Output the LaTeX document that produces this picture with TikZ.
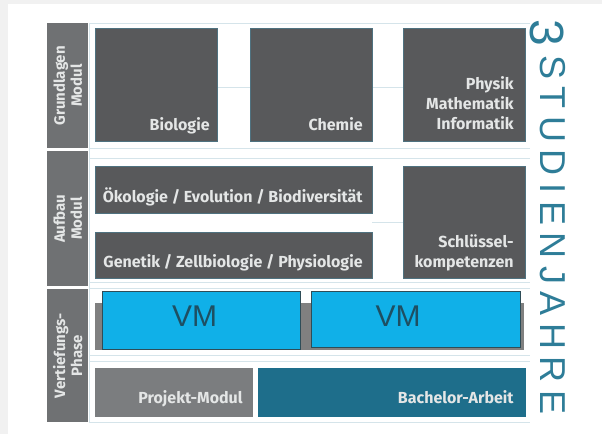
\documentclass[tikz,border=0pt]{standalone}
\usepackage{fontspec}
\setmainfont{Fira Sans}
\newfontfamily\vmfont{Liberation Sans}
\newfontfamily\yearfont[LetterSpace=21]{Liberation Sans}
\usetikzlibrary{positioning}

\definecolor{pagegrey}{HTML}{F1F1F1}
\definecolor{stripgrey}{HTML}{6F7173}
\definecolor{boxgrey}{HTML}{58595B}
\definecolor{boxedge}{HTML}{4F7280}
\definecolor{labelwhite}{HTML}{E4E6E6}
\definecolor{rulecol}{HTML}{D5E4EA}
\definecolor{vmcyan}{HTML}{10B0E8}
\definecolor{vmedge}{HTML}{2E4D58}
\definecolor{vmgrey}{HTML}{808080}
\definecolor{vmtextcol}{HTML}{1E4F62}
\definecolor{projgrey}{HTML}{7B7D7F}
\definecolor{bachteal}{HTML}{1E6E8B}
\definecolor{yearcol}{HTML}{2E7D98}

\tikzstyle{rule}=[draw=rulecol,line width=1pt]
\tikzset{
  stripbox/.style={
    fill=stripgrey,
    anchor=north west,
    inner sep=0,
    minimum width=41pt
  }
}
\tikzset{
  striptext/.style={
    rotate=90,
    align=center,
    text=labelwhite,
    inner sep=0,
    font=\bfseries\fontsize{15}{17}\selectfont
  }
}
\tikzset{
  modbox/.style={
    draw=boxedge,
    fill=boxgrey,
    line width=0.8pt,
    anchor=north west,
    inner sep=0
  }
}
\tikzset{
  modtext/.style={
    anchor=base east,
    align=right,
    text=labelwhite,
    inner sep=0,
    font=\bfseries\fontsize{16}{20}\selectfont
  }
}
\tikzset{
  vmbox/.style={
    draw=vmedge,
    fill=vmcyan,
    line width=1pt,
    anchor=north west,
    inner sep=0
  }
}
\tikzset{vmtext/.style={text=vmtextcol,inner sep=0,font=\vmfont\fontsize{30}{30}\selectfont}}

\begin{document}
\begin{tikzpicture}[x=1pt,y=-1pt]

% page
\fill[pagegrey] (0,0) rectangle (602,434);
\fill[white] (8,4) rectangle (602,434);

% rules
\draw[rule] (89,23) -- (530,23);
\draw[rule] (217,87) -- (403,87);
\draw[rule] (89,148) -- (530,148);
\draw[rule] (89,158) -- (530,158);
\draw[rule] (372,222) -- (403,222);
\draw[rule] (89,282) -- (530,282);
\draw[rule] (89,288) -- (530,288);
\draw[rule] (89,355) -- (530,355);
\draw[rule] (89,361) -- (530,361);
\draw[rule] (89,422) -- (530,422);
\draw[rule] (89,23) -- (89,422);

% phases
\node[stripbox,minimum height=125pt] (sgrund) at (47,23) {};
\node[stripbox,minimum height=135pt] (saufbau) at (47,151) {};
\node[stripbox,minimum height=133pt] (svert) at (47,289) {};
\node[striptext] at (sgrund.center) {Grundlagen\\Modul};
\node[striptext] at (saufbau.center) {Aufbau\\Modul};
\node[striptext] at (svert.center) {Vertiefungs-\\Phase};

% Grundlagen
\node[modbox,minimum width=122pt,minimum height=113pt] (bio) at (95,28) {};
\node[modbox,minimum width=122pt,minimum height=113pt] (chem) at (250,28) {};
\node[modbox,minimum width=122pt,minimum height=113pt] (phys) at (403,28) {};
\node[modtext] at ([xshift=-8pt,yshift=11pt]bio.south east) {Biologie};
\node[modtext] at ([xshift=-10pt,yshift=11pt]chem.south east) {Chemie};
\node[modtext] at ([xshift=-12pt,yshift=12pt]phys.south east) {Physik\\Mathematik\\Informatik};

% Aufbau
\node[modbox,minimum width=277pt,minimum height=47pt] (oeko) at (95,166) {};
\node[modbox,minimum width=277pt,minimum height=46pt] (gene) at (95,232) {};
\node[modbox,minimum width=122pt,minimum height=112pt] (schl) at (403,166) {};
\node[modtext] at ([xshift=-10pt,yshift=11pt]oeko.south east) {Ökologie / Evolution / Biodiversität};
\node[modtext] at ([xshift=-10pt,yshift=11pt]gene.south east) {Genetik / Zellbiologie / Physiologie};
\node[modtext] at ([xshift=-12pt,yshift=11pt]schl.south east) {Schlüssel-\\kompetenzen};

% Vertiefung
\node[fill=vmgrey,anchor=north west,inner sep=0,minimum width=429pt,minimum height=47pt] (vmbar) at (95,303) {};
\node[vmbox,minimum width=198pt,minimum height=58pt] (vma) at (102,291) {};
\node[vmbox,minimum width=209pt,minimum height=56pt] (vmb) at (311,291) {};
\node[vmtext] at ([xshift=-7pt,yshift=-25pt]vma.north) {VM};
\node[vmtext] at ([xshift=-18pt,yshift=-25pt]vmb.north) {VM};

\node[modbox,fill=projgrey,draw=projgrey,minimum width=157pt,minimum height=48pt] (proj) at (95,368) {};
\node[modbox,fill=bachteal,draw=bachteal,minimum width=267pt,minimum height=48pt] (bach) at (258,368) {};
\node[modtext] at ([xshift=-10pt,yshift=13pt]proj.south east) {Projekt-Modul};
\node[modtext] at ([xshift=-12pt,yshift=13pt]bach.south east) {Bachelor-Arbeit};

% Jahre
\node[rotate=-90,anchor=base west,inner sep=0,text=yearcol,font=\vmfont\fontsize{48}{48}\selectfont] (drei) at (530,19) {3};
\node[rotate=-90,anchor=base west,inner sep=0,text=yearcol,font=\yearfont\fontsize{36}{36}\selectfont] (studj) at (540,55) {STUDIENJAHRE};

\end{tikzpicture}
\end{document}
